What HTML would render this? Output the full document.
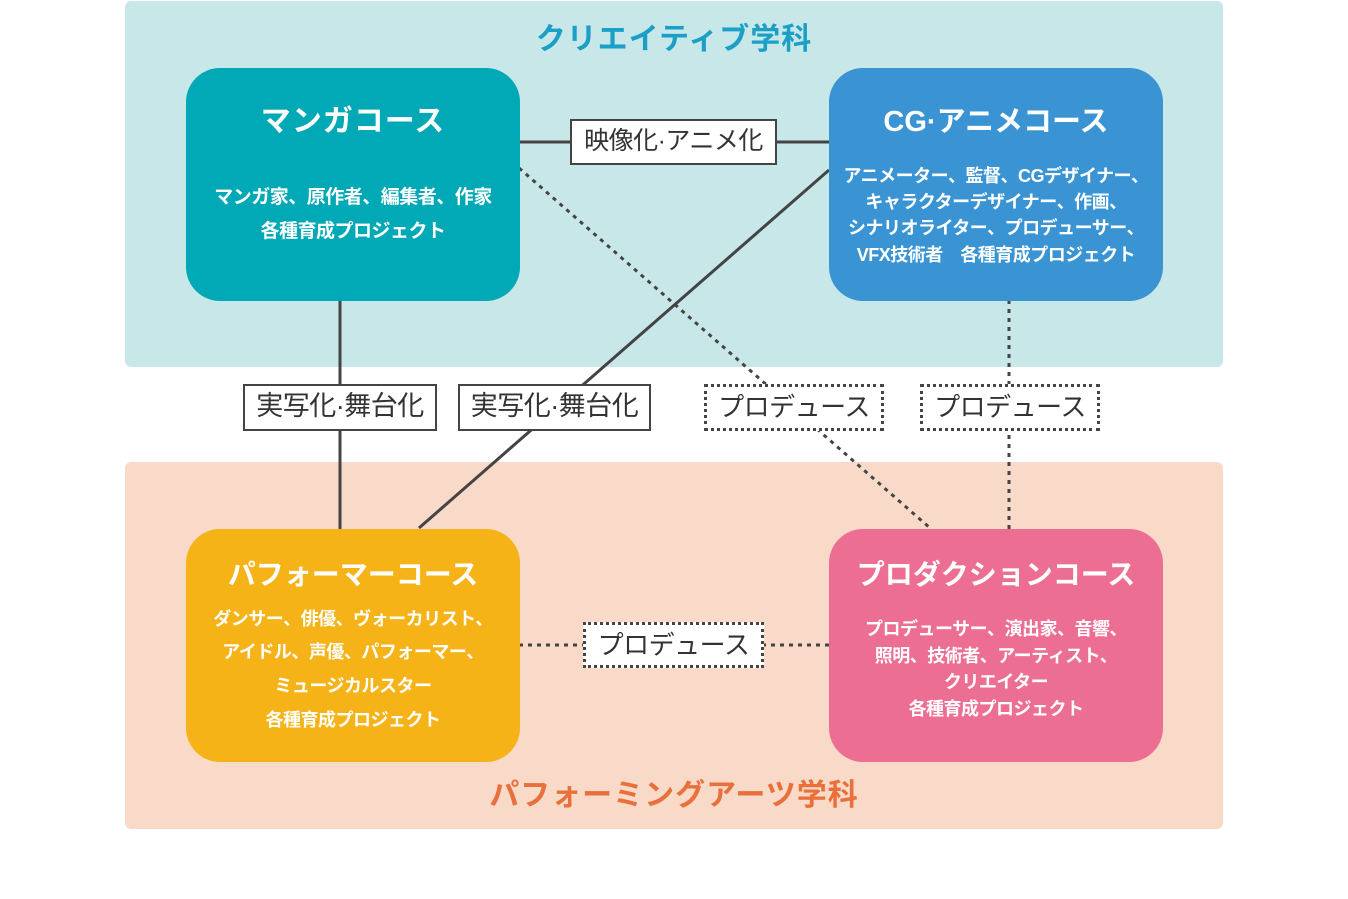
<!DOCTYPE html>
<html><head><meta charset="utf-8">
<style>
*{margin:0;padding:0;box-sizing:border-box}
body{width:1348px;height:899px;background:#fff;position:relative;overflow:hidden;font-family:"Liberation Sans","Noto Sans CJK JP",sans-serif}
.panel{position:absolute;left:125px;width:1098px;border-radius:6px}
.box{position:absolute;width:334px;height:233px;border-radius:34px;color:#fff;text-align:center}
.t{position:absolute;left:0;width:100%;font-weight:bold;font-size:28px;line-height:36px;letter-spacing:0px;white-space:nowrap}
.l{position:absolute;left:0;width:100%;font-weight:bold;font-size:18px;line-height:26px;letter-spacing:-0.5px;white-space:nowrap}
.lab{position:absolute;background:#fff;color:#333;font-size:27px;line-height:40px;text-align:center;white-space:nowrap;letter-spacing:-0.5px}
.solid{border:2px solid #444}
.dash{border:3px dotted #444}
.h{position:absolute;width:100%;text-align:center;font-weight:bold;font-size:30px;letter-spacing:1px}
svg{position:absolute;left:0;top:0}
</style></head><body>
<div class="panel" style="top:1px;height:366px;background:#c8e7e8"></div>
<div class="panel" style="top:462px;height:367px;background:#f9d9c8"></div>
<div class="h" style="top:14px;color:#1c9fc6">クリエイティブ学科</div>
<div class="h" style="top:770px;color:#e8703a">パフォーミングアーツ学科</div>
<svg width="1348" height="899">
<g stroke="#444" stroke-width="3" fill="none">
<line x1="519" y1="142" x2="829" y2="142"/>
<line x1="340" y1="300" x2="340" y2="529"/>
<line x1="829" y1="170" x2="419" y2="528"/>
<line x1="519" y1="168" x2="930" y2="528" stroke-dasharray="4 5"/>
<line x1="1009" y1="300" x2="1009" y2="529" stroke-dasharray="4 5"/>
<line x1="519" y1="645" x2="829" y2="645" stroke-dasharray="4 5"/>
</g></svg>
<div class="box" style="left:186px;top:68px;background:#00a9b5">
<div class="t" style="top:36px;font-size:30px;letter-spacing:1px">マンガコース</div>
<div class="l" style="top:117px;font-size:19px">マンガ家、原作者、編集者、作家</div>
<div class="l" style="top:151px;font-size:19px">各種育成プロジェクト</div>
</div>
<div class="box" style="left:829px;top:68px;background:#3a94d4">
<div class="t" style="top:36px;font-size:29px">CG·アニメコース</div>
<div class="l" style="top:95px">アニメーター、監督、CGデザイナー、</div>
<div class="l" style="top:121px">キャラクターデザイナー、作画、</div>
<div class="l" style="top:147px">シナリオライター、プロデューサー、</div>
<div class="l" style="top:174px">VFX技術者　各種育成プロジェクト</div>
</div>
<div class="box" style="left:186px;top:529px;background:#f5b317">
<div class="t" style="top:28px">パフォーマーコース</div>
<div class="l" style="top:77px">ダンサー、俳優、ヴォーカリスト、</div>
<div class="l" style="top:110px">アイドル、声優、パフォーマー、</div>
<div class="l" style="top:144px">ミュージカルスター</div>
<div class="l" style="top:178px">各種育成プロジェクト</div>
</div>
<div class="box" style="left:829px;top:529px;background:#ec6f93">
<div class="t" style="top:28px">プロダクションコース</div>
<div class="l" style="top:87px">プロデューサー、演出家、音響、</div>
<div class="l" style="top:114px">照明、技術者、アーティスト、</div>
<div class="l" style="top:140px">クリエイター</div>
<div class="l" style="top:167px">各種育成プロジェクト</div>
</div>
<div class="lab solid" style="left:570px;top:119px;width:207px;height:46px;font-size:25px">映像化·アニメ化</div>
<div class="lab solid" style="left:243px;top:384px;width:194px;height:47px">実写化·舞台化</div>
<div class="lab solid" style="left:458px;top:384px;width:193px;height:47px">実写化·舞台化</div>
<div class="lab dash" style="left:704px;top:384px;width:180px;height:47px;font-size:26px">プロデュース</div>
<div class="lab dash" style="left:920px;top:384px;width:180px;height:47px;font-size:26px">プロデュース</div>
<div class="lab dash" style="left:583px;top:622px;width:181px;height:46px;font-size:26px">プロデュース</div>
</body></html>
